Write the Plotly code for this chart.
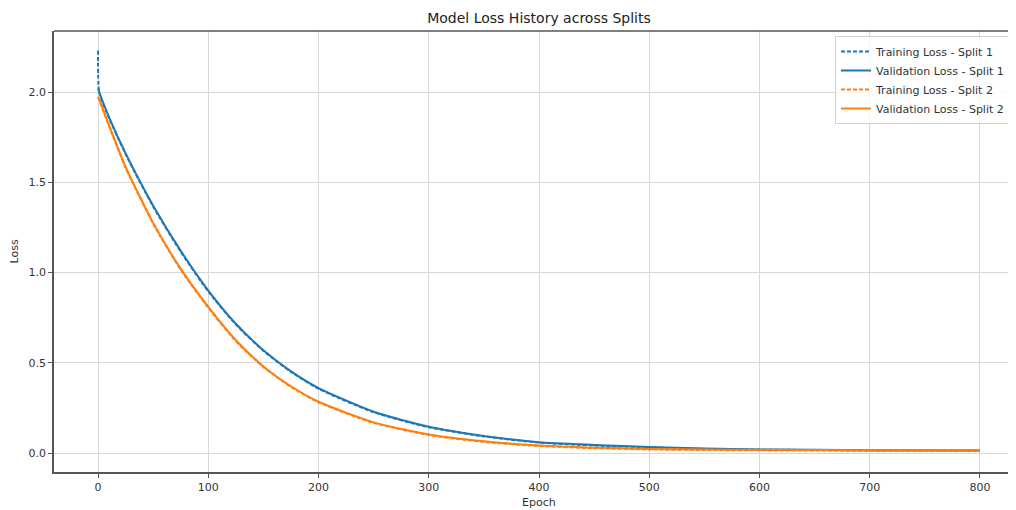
import plotly.graph_objects as go

# Data
epochs = [0, 1, 10, 25, 50, 75, 100, 125, 150, 175, 200, 250, 300, 350, 400, 450, 500, 550, 600, 700, 800]

train_split1 = [2.23, 2.00, 1.855, 1.655, 1.365, 1.115, 0.895, 0.712, 0.566, 0.450, 0.356, 0.226, 0.143, 0.092, 0.058, 0.042, 0.031, 0.023, 0.019, 0.015, 0.013]
val_split1   = [2.02, 2.00, 1.86, 1.66, 1.370, 1.120, 0.900, 0.716, 0.569, 0.452, 0.360, 0.229, 0.146, 0.095, 0.060, 0.045, 0.033, 0.025, 0.020, 0.016, 0.014]
train_split2 = [1.97, 1.955, 1.81, 1.58, 1.270, 1.015, 0.805, 0.620, 0.476, 0.366, 0.281, 0.167, 0.100, 0.062, 0.039, 0.027, 0.020, 0.017, 0.015, 0.013, 0.013]
val_split2   = [1.975, 1.96, 1.815, 1.585, 1.275, 1.020, 0.810, 0.625, 0.480, 0.370, 0.284, 0.170, 0.103, 0.065, 0.042, 0.030, 0.023, 0.020, 0.018, 0.016, 0.016]

x_ticks = [0, 100, 200, 300, 400, 500, 600, 700, 800]
y_ticks = [0.0, 0.5, 1.0, 1.5, 2.0]
y_tick_labels = ["0.0", "0.5", "1.0", "1.5", "2.0"]

BLUE = "#1f77b4"
ORANGE = "#ff7f0e"

# page body has an 8px margin; the figure is offset by (8, 8) in the screenshot
W, H = 1016, 510
L, T, B = 46, 23, 46
PW, PH = W - L, H - T - B

fig = go.Figure()
fig.add_trace(go.Scatter(x=epochs, y=train_split1, mode="lines", name="Training Loss - Split 1",
                         line=dict(color=BLUE, width=2, dash="4px,2px", shape="spline", smoothing=0.6)))
fig.add_trace(go.Scatter(x=epochs, y=val_split1, mode="lines", name="Validation Loss - Split 1",
                         line=dict(color=BLUE, width=2, shape="spline", smoothing=0.6)))
fig.add_trace(go.Scatter(x=epochs, y=train_split2, mode="lines", name="Training Loss - Split 2",
                         line=dict(color=ORANGE, width=2, dash="4px,2px", shape="spline", smoothing=0.6)))
fig.add_trace(go.Scatter(x=epochs, y=val_split2, mode="lines", name="Validation Loss - Split 2",
                         line=dict(color=ORANGE, width=2, shape="spline", smoothing=0.6)))

fig.update_layout(
    width=W, height=H,
    margin=dict(l=L, r=0, t=T, b=B, autoexpand=False),
    paper_bgcolor="white", plot_bgcolor="white",
    font=dict(family="DejaVu Sans", size=11, color="#333333"),
    title=dict(text="Model Loss History across Splits", x=0.5, xref="paper",
               xanchor="center", y=1 - 10 / H, yanchor="middle", font=dict(size=14, color="#222222")),
    showlegend=True,
    legend=dict(x=(827 - L) / PW, xanchor="left", y=(T + PH - 28) / PH, yanchor="top",
                bgcolor="rgba(255,255,255,0.8)", bordercolor="#d0d0d0", borderwidth=1,
                font=dict(size=11, color="#333333"), tracegroupgap=0, itemwidth=30),
    xaxis=dict(range=[-40, 840], tickvals=x_ticks, showgrid=True, gridcolor="#d8d8d8", gridwidth=1,
               zeroline=False, showline=True, linecolor="#555555", linewidth=1.5,
               ticks="outside", ticklen=4, tickcolor="#555555", automargin=False),
    yaxis=dict(range=[-0.105, 2.338], tickvals=y_ticks, ticktext=y_tick_labels, showgrid=True,
               gridcolor="#d8d8d8", gridwidth=1, zeroline=False, showline=True, linecolor="#555555",
               linewidth=1.5, ticks="outside", ticklen=4, tickcolor="#555555", automargin=False),
)

# axis titles placed as annotations for exact positioning
fig.add_annotation(text="Epoch", xref="paper", yref="paper", x=0.5, y=(T + PH - 494) / PH,
                   xanchor="center", yanchor="middle", showarrow=False, font=dict(size=11, color="#333333"))
fig.add_annotation(text="Loss", xref="paper", yref="paper", x=(6 - L) / PW, y=0.5, textangle=-90,
                   xanchor="center", yanchor="middle", showarrow=False, font=dict(size=11, color="#333333"))

# top and right spines
fig.add_shape(type="line", xref="paper", yref="paper", x0=0, x1=1, y0=1, y1=1,
              line=dict(color="#555555", width=1.5))
fig.add_shape(type="line", xref="paper", yref="paper", x0=1, x1=1, y0=0, y1=1,
              line=dict(color="#555555", width=1.5))

fig.write_html("out.html")
